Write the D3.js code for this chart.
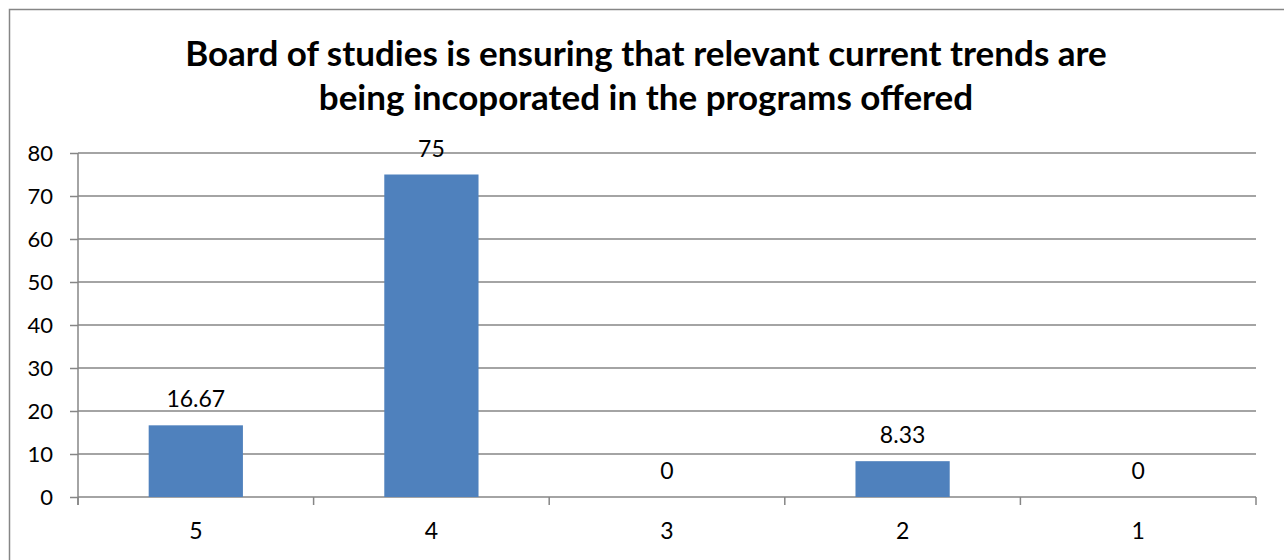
<!DOCTYPE html>
<html>
<head>
<meta charset="utf-8">
<script src="https://cdn.jsdelivr.net/npm/d3@7"></script>
<style>
  body { margin: 0; background: #fff; }
  svg { display: block; font-family: Lato, "Open Sans", sans-serif; }
</style>
</head>
<body>
<div id="chart"></div>
<script>
const categories = ["5", "4", "3", "2", "1"];
const values = [16.67, 75, 0, 8.33, 0];
const yTicks = [0, 10, 20, 30, 40, 50, 60, 70, 80];
const titleLines = [
  "Board of studies is ensuring that relevant current trends are",
  "being incoporated in the programs offered"
];

const W = 1284, H = 560;
const margin = { top: 153, right: 28, bottom: 63, left: 78 };
const width = W - margin.left - margin.right;
const height = H - margin.top - margin.bottom;

const svg = d3.select("#chart").append("svg")
  .attr("width", W)
  .attr("height", H);

// outer chart border
svg.append("rect")
  .attr("x", 9.5).attr("y", 9.5)
  .attr("width", W + 20).attr("height", H + 20)
  .attr("fill", "none")
  .attr("stroke", "#868686")
  .attr("stroke-width", 1.5);

// title
svg.append("text")
  .attr("x", 646)
  .attr("text-anchor", "middle")
  .attr("font-size", "35px")
  .attr("font-weight", "bold")
  .attr("fill", "#000")
  .selectAll("tspan")
  .data(titleLines)
  .enter()
  .append("tspan")
  .attr("x", 646)
  .attr("y", (d, i) => 66 + i * 44)
  .text(d => d);

const g = svg.append("g")
  .attr("transform", `translate(${margin.left},${margin.top})`);

const x = d3.scaleBand().domain(categories).range([0, width]).paddingInner(0.6).paddingOuter(0.3);
const xb = d3.scaleBand().domain(categories).range([0, width]);
const y = d3.scaleLinear().domain([0, 80]).range([height, 0]);

// left ticks and labels
const yAxis = g.append("g")
  .call(d3.axisLeft(y).tickValues(yTicks).tickSize(8).tickPadding(17));
yAxis.select(".domain").remove();
yAxis.selectAll(".tick line").attr("stroke", "#868686").attr("stroke-width", 1.5);
yAxis.selectAll(".tick text")
  .attr("font-size", "22px")
  .attr("font-family", "Lato, 'Open Sans', sans-serif")
  .attr("fill", "#000");

// gridlines
g.append("g").selectAll("line")
  .data(yTicks)
  .enter()
  .append("line")
  .attr("x1", 0).attr("x2", width)
  .attr("y1", d => y(d)).attr("y2", d => y(d))
  .attr("stroke", "#868686")
  .attr("stroke-width", 1.5);

// y axis line
g.append("line")
  .attr("x1", 0).attr("x2", 0)
  .attr("y1", 0).attr("y2", height + 8)
  .attr("stroke", "#868686")
  .attr("stroke-width", 1.5);

// bars
g.selectAll(".bar")
  .data(values)
  .enter()
  .append("rect")
  .attr("x", (d, i) => x(categories[i]))
  .attr("y", d => y(d))
  .attr("width", x.bandwidth())
  .attr("height", d => height - y(d))
  .attr("fill", "#4F81BD");

// data labels
g.selectAll(".lbl")
  .data(values)
  .enter()
  .append("text")
  .attr("x", (d, i) => x(categories[i]) + x.bandwidth() / 2)
  .attr("y", d => y(d) - 18)
  .attr("text-anchor", "middle")
  .attr("font-size", "23px")
  .attr("fill", "#000")
  .text(d => d);

// x axis ticks at category boundaries
const boundaries = categories.map(c => xb(c)).concat([width]);
g.append("g").selectAll("line")
  .data(boundaries)
  .enter()
  .append("line")
  .attr("x1", d => d).attr("x2", d => d)
  .attr("y1", height).attr("y2", height + 8)
  .attr("stroke", "#868686")
  .attr("stroke-width", 1.5);

g.append("g").selectAll("text")
  .data(categories)
  .enter()
  .append("text")
  .attr("x", d => xb(d) + xb.bandwidth() / 2)
  .attr("y", height + 42)
  .attr("text-anchor", "middle")
  .attr("font-size", "23px")
  .attr("fill", "#000")
  .text(d => d);
</script>
</body>
</html>
